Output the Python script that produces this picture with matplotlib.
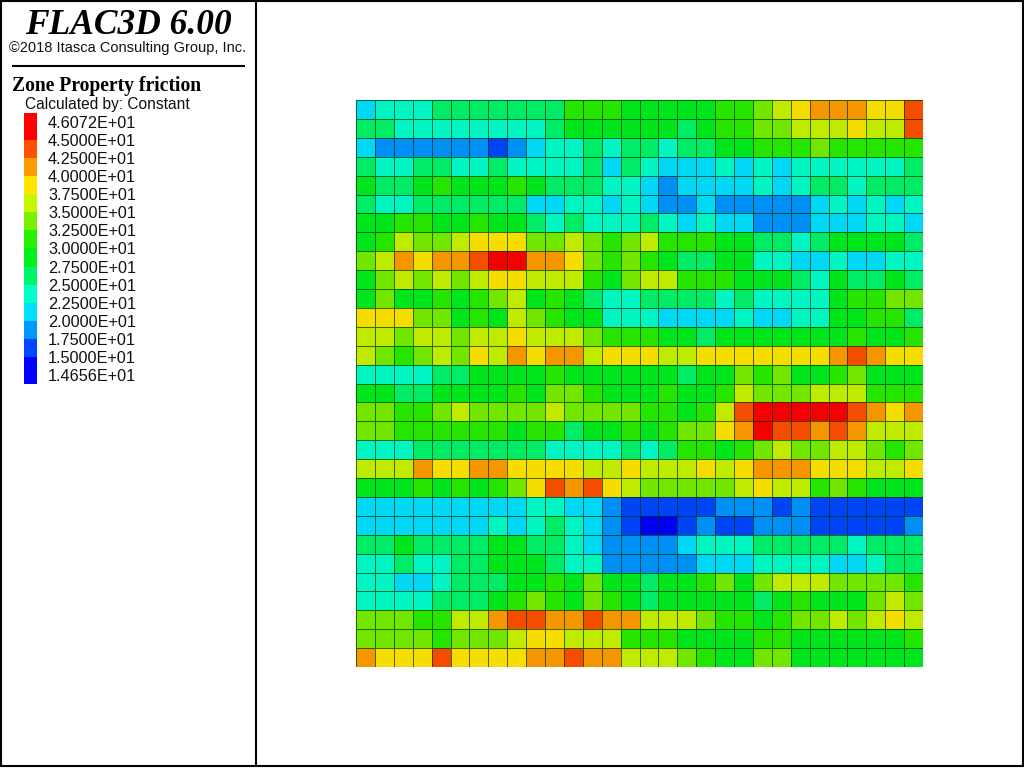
import numpy as np
import matplotlib
matplotlib.use("Agg")
import matplotlib.pyplot as plt
from matplotlib.colors import ListedColormap, BoundaryNorm
from matplotlib.lines import Line2D

W, H = 1024, 768

# contour levels, as printed in the legend (bottom to top)
levels = [14.656, 15.0, 17.5, 20.0, 22.5, 25.0, 27.5, 30.0, 32.5, 35.0, 37.5, 40.0, 42.5, 45.0, 46.072]
level_labels = ["1.4656E+01", "1.5000E+01", "1.7500E+01", "2.0000E+01", "2.2500E+01",
                "2.5000E+01", "2.7500E+01", "3.0000E+01", "3.2500E+01", "3.5000E+01",
                "3.7500E+01", "4.0000E+01", "4.2500E+01", "4.5000E+01", "4.6072E+01"]
band_colors = ["#0000ff", "#0048ff", "#0096ff", "#00e1ff", "#00ffcb", "#00f56a", "#00f01e",
               "#28f000", "#78f000", "#c8f500", "#ffe600", "#ff9b00", "#ff5000", "#ff0000"]
# friction of a zone, read as the middle of its colour band
band_mid = [14.8, 16.2, 18.8, 21.2, 23.8, 26.2, 28.8, 31.2, 33.8, 36.2, 38.8, 41.2, 43.8, 45.5]

# colour band of every zone, top row of the picture first
zone_bands = [
    [3, 4, 4, 4, 5, 5, 5, 5, 5, 5, 5, 7, 7, 7, 6, 6, 6, 6, 6, 7, 7, 8, 9, 10, 11, 11, 11, 10, 10, 12],
    [5, 5, 4, 4, 4, 4, 4, 4, 4, 4, 5, 6, 6, 6, 6, 6, 6, 5, 6, 7, 7, 8, 8, 9, 9, 9, 10, 9, 9, 12],
    [3, 2, 2, 2, 2, 2, 2, 1, 2, 3, 4, 4, 5, 4, 5, 5, 4, 5, 5, 6, 6, 7, 7, 7, 8, 7, 7, 7, 7, 7],
    [5, 4, 4, 5, 5, 4, 4, 5, 4, 4, 4, 4, 5, 3, 5, 4, 3, 3, 3, 4, 3, 4, 3, 4, 4, 4, 4, 4, 4, 5],
    [6, 5, 5, 6, 7, 6, 6, 6, 7, 6, 5, 5, 5, 4, 4, 3, 2, 3, 3, 3, 3, 4, 3, 4, 5, 5, 4, 5, 5, 5],
    [5, 4, 4, 5, 5, 5, 5, 5, 5, 3, 3, 4, 4, 3, 4, 3, 2, 2, 3, 2, 2, 2, 2, 2, 3, 4, 3, 4, 3, 4],
    [6, 6, 7, 7, 6, 6, 7, 6, 6, 5, 4, 5, 4, 4, 4, 5, 4, 3, 4, 3, 3, 2, 2, 2, 3, 3, 3, 4, 4, 3],
    [6, 7, 9, 8, 8, 9, 10, 10, 10, 8, 8, 9, 8, 7, 8, 9, 7, 7, 7, 6, 6, 5, 5, 4, 5, 6, 6, 6, 6, 5],
    [8, 9, 11, 10, 11, 11, 12, 13, 13, 11, 11, 10, 8, 7, 8, 7, 6, 5, 5, 6, 6, 4, 4, 3, 3, 4, 3, 3, 4, 4],
    [6, 8, 9, 8, 9, 8, 9, 10, 10, 9, 9, 9, 7, 6, 8, 9, 9, 7, 7, 7, 6, 6, 6, 5, 4, 6, 5, 5, 6, 5],
    [6, 8, 6, 6, 7, 6, 7, 8, 9, 6, 7, 6, 5, 4, 4, 5, 5, 5, 5, 4, 5, 4, 4, 4, 4, 6, 7, 7, 8, 8],
    [10, 10, 10, 8, 8, 6, 7, 6, 9, 8, 7, 6, 6, 4, 4, 4, 3, 3, 3, 3, 4, 3, 3, 4, 4, 6, 6, 7, 7, 5],
    [9, 9, 8, 9, 9, 8, 9, 9, 10, 9, 9, 9, 8, 7, 7, 7, 6, 6, 5, 6, 6, 6, 6, 6, 6, 6, 7, 6, 6, 7],
    [9, 8, 7, 8, 9, 8, 10, 9, 11, 10, 11, 11, 9, 10, 10, 10, 9, 9, 10, 10, 10, 10, 10, 10, 10, 11, 12, 11, 10, 10],
    [4, 4, 4, 4, 5, 5, 6, 6, 6, 6, 7, 6, 6, 6, 6, 6, 6, 5, 6, 6, 8, 7, 8, 6, 6, 7, 8, 6, 6, 6],
    [6, 6, 5, 5, 6, 6, 6, 6, 7, 6, 8, 8, 7, 6, 6, 6, 7, 6, 6, 7, 9, 8, 8, 8, 9, 9, 9, 7, 7, 7],
    [8, 8, 7, 7, 8, 9, 8, 8, 8, 8, 9, 8, 8, 8, 8, 7, 7, 6, 7, 9, 12, 13, 13, 13, 13, 13, 12, 11, 10, 11],
    [8, 8, 7, 7, 7, 7, 7, 7, 6, 7, 7, 5, 6, 6, 7, 6, 7, 8, 8, 10, 11, 13, 12, 12, 11, 12, 11, 9, 9, 9],
    [4, 4, 4, 5, 5, 5, 5, 5, 5, 5, 4, 4, 4, 4, 5, 4, 5, 7, 7, 6, 7, 8, 9, 8, 8, 9, 9, 8, 7, 8],
    [9, 9, 9, 11, 10, 10, 11, 11, 10, 10, 10, 10, 9, 9, 10, 9, 9, 9, 10, 9, 10, 11, 11, 11, 10, 10, 10, 9, 9, 10],
    [6, 6, 6, 7, 6, 7, 6, 7, 8, 10, 12, 11, 12, 10, 9, 8, 8, 8, 8, 8, 9, 10, 9, 9, 7, 8, 7, 6, 6, 6],
    [3, 3, 3, 3, 3, 3, 3, 3, 3, 4, 4, 3, 3, 2, 1, 1, 1, 1, 1, 2, 2, 2, 1, 2, 1, 1, 1, 1, 1, 1],
    [3, 3, 3, 3, 3, 3, 3, 4, 3, 4, 5, 4, 3, 2, 1, 0, 0, 1, 2, 1, 1, 2, 2, 2, 1, 1, 1, 1, 1, 2],
    [5, 5, 6, 5, 5, 5, 5, 6, 6, 5, 5, 4, 3, 2, 2, 2, 2, 3, 4, 4, 4, 5, 5, 5, 5, 5, 4, 5, 5, 5],
    [4, 4, 5, 4, 4, 5, 5, 6, 6, 6, 5, 4, 4, 2, 2, 2, 2, 2, 3, 3, 3, 4, 4, 4, 4, 3, 3, 4, 5, 5],
    [4, 4, 3, 3, 4, 5, 5, 5, 6, 6, 7, 6, 8, 6, 6, 5, 6, 6, 7, 8, 6, 8, 9, 9, 9, 8, 8, 8, 8, 7],
    [4, 4, 4, 4, 5, 5, 5, 6, 7, 8, 7, 6, 8, 7, 6, 5, 6, 6, 6, 6, 6, 5, 6, 7, 6, 6, 6, 8, 9, 8],
    [8, 8, 8, 7, 7, 9, 9, 11, 12, 12, 11, 11, 12, 11, 11, 9, 9, 9, 8, 7, 7, 6, 7, 8, 8, 9, 8, 9, 10, 9],
    [8, 8, 8, 8, 7, 8, 8, 8, 9, 10, 10, 9, 9, 9, 7, 7, 7, 6, 6, 6, 6, 7, 7, 6, 6, 6, 6, 6, 6, 7],
    [11, 10, 10, 10, 12, 10, 10, 10, 10, 11, 11, 12, 11, 11, 9, 9, 9, 8, 7, 6, 6, 8, 8, 6, 6, 6, 6, 6, 6, 6],
]


def px_axes(fig, left, top, right, bottom):
    return fig.add_axes([left / W, 1 - bottom / H, (right - left) / W, (bottom - top) / H])


def px_text(fig, x, y, s, **kw):
    fig.text(x / W, 1 - y / H, s, va="center", **kw)


fig = plt.figure(figsize=(W / 100, H / 100), dpi=100, facecolor="white")

# model plot, the zones come out a bit darker than the legend swatches
friction = np.array(band_mid)[np.array(zone_bands)]
shaded = np.array(matplotlib.colors.to_rgba_array(band_colors))
shaded[:, :3] *= 0.96
norm = BoundaryNorm(levels, len(band_colors))

ax = px_axes(fig, 356, 100, 923, 667)
ax.pcolormesh(friction, cmap=ListedColormap(shaded), norm=norm,
              edgecolors=(0, 0.2, 0, 0.7), linewidth=0.4)
ax.invert_yaxis()
ax.set_aspect("equal")
ax.axis("off")

# legend colour bar, first and last band hang past their labels
row_edges = [-0.5] + list(range(1, 14)) + [14.5]
lax = px_axes(fig, 24, 113, 37, 384)
lax.pcolormesh([0, 1], row_edges, np.array(levels[:-1])[:, None] + 0.001,
               cmap=ListedColormap(band_colors), norm=norm)
lax.set_xticks([])
lax.yaxis.tick_right()
lax.set_yticks(range(15), level_labels, fontsize=11.7, family="Liberation Sans", color="#111111")
lax.tick_params(axis="y", length=0, pad=8)
for s in lax.spines.values():
    s.set_visible(False)

# titles
px_text(fig, 128.5, 25, "FLAC3D 6.00", ha="center", fontsize=25.5, color="black",
        family="Liberation Serif", fontweight="bold", fontstyle="italic")
px_text(fig, 127.5, 48, "©2018 Itasca Consulting Group, Inc.", ha="center", fontsize=10.55,
        family="Liberation Sans", color="#111111")
px_text(fig, 12, 85.5, "Zone Property friction", ha="left", fontsize=14.1,
        family="Liberation Serif", fontweight="bold", color="black")
px_text(fig, 25, 105, "Calculated by: Constant", ha="left", fontsize=11.2,
        family="Liberation Sans", color="#111111")

# frame and rules
frame = [((1, 1), (0, 767)), ((0, 1023), (1, 1)), ((0, 1023), (766, 766)), ((1022.5, 1022.5), (0, 767)),
         ((255.5, 255.5), (0, 767)), ((11.5, 244.5), (66, 66))]
for xs, ys in frame:
    fig.add_artist(Line2D(np.array(xs) / W, 1 - np.array(ys) / H, color="black", linewidth=1.5,
                          solid_capstyle="butt"))

fig.savefig("out.png", dpi=100)
